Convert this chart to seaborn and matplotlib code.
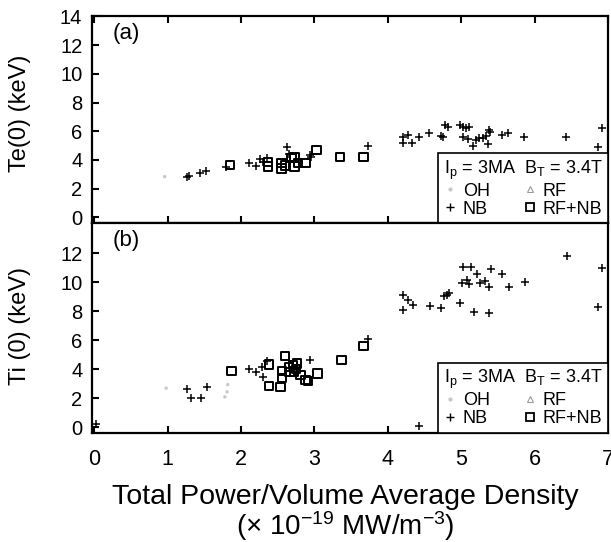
import numpy as np
import pandas as pd
import seaborn as sns
import matplotlib
matplotlib.use("Agg")
import matplotlib.pyplot as plt
from matplotlib.lines import Line2D

# ---------------- data ----------------
# (a) Te(0)
te_nb_x = [1.26, 1.29, 1.44, 1.52, 1.79, 2.11, 2.20, 2.26, 2.30, 2.35, 2.63, 2.66, 2.94, 2.96,
           3.73, 4.21, 4.21, 4.28, 4.33, 4.43, 4.56, 4.73, 4.75, 4.78, 4.82, 4.98, 5.02, 5.06,
           5.11, 5.02, 5.09, 5.16, 5.20, 5.24, 5.30, 5.34, 5.38, 5.39, 5.37, 5.55, 5.64, 5.86,
           6.43, 6.86, 6.92]
te_nb_y = [2.83, 2.85, 3.07, 3.23, 3.53, 3.76, 3.60, 4.04, 3.87, 4.11, 4.92, 4.41, 4.34, 4.22,
           4.97, 5.57, 5.20, 5.74, 5.20, 5.57, 5.90, 5.67, 5.62, 6.43, 6.27, 6.43, 6.27, 6.20,
           6.31, 5.62, 5.44, 4.97, 5.39, 5.50, 5.50, 5.67, 6.08, 5.97, 5.10, 5.74, 5.90, 5.62,
           5.62, 4.88, 6.20]
te_rfnb_x = [1.85, 2.37, 2.37, 2.55, 2.55, 2.60, 2.69, 2.73, 2.73, 2.78, 2.88, 3.03, 3.35, 3.67]
te_rfnb_y = [3.64, 3.87, 3.53, 3.76, 3.41, 3.60, 4.11, 4.22, 3.53, 3.76, 3.76, 4.69, 4.22, 4.18]
te_oh_x = [0.96]
te_oh_y = [2.83]

# (b) Ti(0)
ti_nb_x = [0.03, 1.27, 1.32, 1.46, 1.53, 2.11, 2.20, 2.28, 2.30, 2.35, 2.94, 3.73, 4.21, 4.21,
           4.28, 4.34, 4.43, 4.57, 4.72, 4.77, 4.80, 4.83, 4.99, 5.02, 5.13, 5.01, 5.08, 5.10,
           5.17, 5.21, 5.26, 5.32, 5.38, 5.38, 5.40, 5.56, 5.65, 5.87, 6.44, 6.86, 6.92]
ti_nb_y = [0.20, 2.62, 2.00, 2.04, 2.80, 4.00, 3.83, 4.18, 3.49, 4.57, 4.64, 6.07, 9.12, 8.09,
           8.78, 8.43, 0.10, 8.36, 8.21, 9.06, 9.12, 9.24, 8.59, 11.08, 11.08, 9.93, 10.16, 9.86,
           7.93, 10.55, 9.93, 10.09, 9.70, 7.86, 10.90, 10.57, 9.66, 10.00, 11.81, 8.28, 11.00]
ti_rfnb_x = [1.87, 2.38, 2.38, 2.54, 2.56, 2.56, 2.60, 2.65, 2.66, 2.71, 2.72, 2.76, 2.75,
             2.81, 2.88, 2.91, 3.04, 3.37, 3.67]
ti_rfnb_y = [3.90, 4.34, 2.85, 2.80, 3.88, 3.42, 4.94, 4.18, 3.83, 4.30, 3.84, 4.41, 4.02,
             3.61, 3.26, 3.19, 3.72, 4.64, 5.63]
ti_oh_x = [0.98, 1.81, 1.78, 1.82]
ti_oh_y = [2.70, 2.45, 2.10, 2.95]

x_ticks = [0, 1, 2, 3, 4, 5, 6, 7]
legend_title = r"I$_\mathregular{p}$ = 3MA  B$_\mathregular{T}$ = 3.4T"
legend_labels = ["OH", "NB", "RF", "RF+NB"]

# ---------------- style ----------------
sns.set_theme(style="ticks")
plt.rcParams["font.family"] = ["Liberation Sans", "DejaVu Sans"]
plt.rcParams["mathtext.fontset"] = "custom"
plt.rcParams["mathtext.rm"] = "Liberation Sans"
plt.rcParams["mathtext.it"] = "Liberation Sans:italic"
plt.rcParams["axes.linewidth"] = 1.6
for k in ["text.color", "axes.labelcolor", "xtick.color", "ytick.color",
          "axes.edgecolor", "legend.labelcolor"]:
    plt.rcParams[k] = "black"

fig = plt.figure(figsize=(6.11, 5.42), dpi=100)
axL, axR = 92 / 611, 608 / 611
ax_a = fig.add_axes([axL, 1 - 223 / 542, axR - axL, 207 / 542])
ax_b = fig.add_axes([axL, 1 - 432.7 / 542, axR - axL, 209.7 / 542])


def draw(ax, nb_x, nb_y, sq_x, sq_y, oh_x, oh_y):
    sns.scatterplot(x=oh_x, y=oh_y, ax=ax, marker="o", s=6, color="#c8c8c8",
                    edgecolor="none", legend=False)
    sns.scatterplot(x=nb_x, y=nb_y, ax=ax, marker="+", s=32, color="black",
                    linewidth=1.1, legend=False)
    sns.scatterplot(x=sq_x, y=sq_y, ax=ax, marker="s", s=36, color="black",
                    linewidth=1.4, legend=False)
    ax.collections[-1].set_facecolor("none")
    ax.collections[-1].set_edgecolor("black")
    ax.set_xlim(-0.03, 7.0)
    ax.set_xticks(x_ticks)
    ax.tick_params(axis="both", direction="in", length=5, width=1.5, color="black")
    ax.tick_params(axis="y", labelsize=14.5, pad=7)
    for s in ax.spines.values():
        s.set_color("black")
        s.set_linewidth(1.6)
    handles = [
        Line2D([], [], marker="o", ls="none", ms=3, mfc="#c8c8c8", mec="none"),
        Line2D([], [], marker="+", ls="none", ms=6, mew=1.0, color="black"),
        Line2D([], [], marker="^", ls="none", ms=4, mfc="none", mec="#9a9a9a", mew=0.8),
        Line2D([], [], marker="s", ls="none", ms=5.5, mfc="none", mec="black", mew=1.3),
    ]
    leg = ax.legend(handles, legend_labels, title=legend_title, ncol=2,
                    loc="lower right", bbox_to_anchor=(1.0, 0.0), borderaxespad=0,
                    fontsize=13, title_fontsize=13, handlelength=0.7, handletextpad=0.35,
                    columnspacing=1.9, labelspacing=0.05, borderpad=0.3,
                    frameon=True, fancybox=False, alignment="left")
    leg.get_frame().set_edgecolor("black")
    leg.get_frame().set_linewidth(1.2)
    leg.get_frame().set_facecolor("white")
    leg.get_frame().set_alpha(1)


draw(ax_a, te_nb_x, te_nb_y, te_rfnb_x, te_rfnb_y, te_oh_x, te_oh_y)
draw(ax_b, ti_nb_x, ti_nb_y, ti_rfnb_x, ti_rfnb_y, ti_oh_x, ti_oh_y)

ax_a.set_ylim(-0.4, 14.03)
ax_a.set_yticks(range(0, 15, 2))
ax_a.tick_params(axis="x", top=True, labelbottom=False)
ax_b.set_ylim(-0.37, 14.09)
ax_b.set_yticks(range(0, 13, 2))
ax_b.tick_params(axis="x", labelsize=15.5, pad=12)

ax_a.set_ylabel("Te(0) (keV)", fontsize=17)
ax_b.set_ylabel("Ti (0) (keV)", fontsize=17)
ax_a.yaxis.set_label_coords(-0.118, 0.53)
ax_b.yaxis.set_label_coords(-0.118, 0.51)
ax_a.set_xlabel("")
ax_b.set_xlabel("")

ax_a.text(0.04, 0.915, "(a)", transform=ax_a.transAxes, fontsize=16, va="center", ha="left")
ax_b.text(0.04, 0.915, "(b)", transform=ax_b.transAxes, fontsize=16, va="center", ha="left")

fig.text(345.5 / 611, 1 - 497 / 542, "Total Power/Volume Average Density",
         fontsize=20.5, ha="center", va="center")
fig.text(345.5 / 611, 1 - 526 / 542, r"($\times$ 10$^{-19}$ MW/m$^{-3}$)",
         fontsize=20, ha="center", va="center")

fig.savefig("out.png", dpi=100)
